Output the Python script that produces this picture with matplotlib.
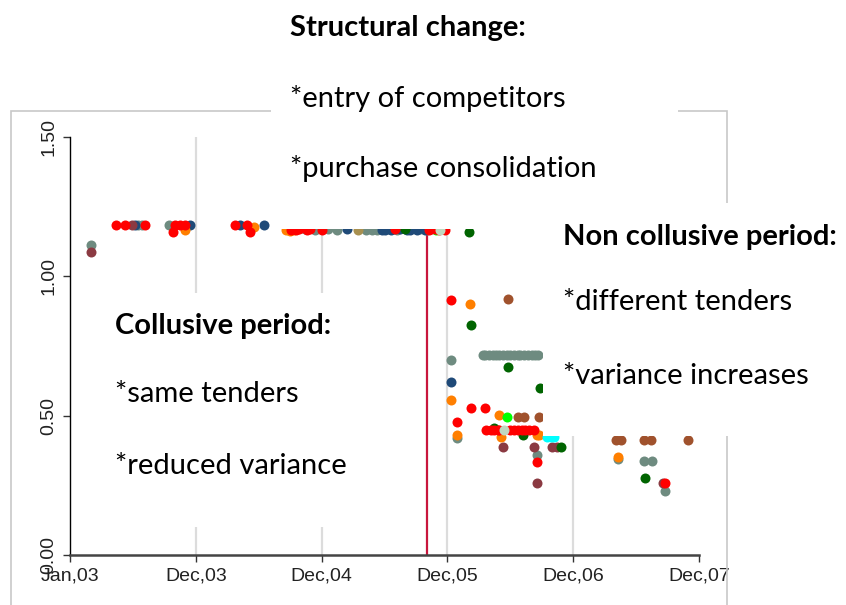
import matplotlib
matplotlib.use("Agg")
from matplotlib import pyplot as plt
from matplotlib.patches import Rectangle

# x in "tick units": 0 = Jan,03, 1 = Dec,03, ... 5 = Dec,07
x_ticks = [0, 1, 2, 3, 4, 5]
x_labels = ["Jan,03", "Dec,03", "Dec,04", "Dec,05", "Dec,06", "Dec,07"]
y_ticks = [0.0, 0.5, 1.0, 1.5]
y_labels = ["0.00", "0.50", "1.00", "1.50"]
break_x = 2.84
break_top = 1.165

gray_x = [0.167, 0.54, 0.57, 0.79, 1.865, 1.95, 2.05, 2.12, 2.35, 2.40, 2.44,
          2.47, 2.54, 2.60, 2.75, 2.78, 2.84,
          3.03, 3.28, 3.30, 3.33, 3.36, 3.39, 3.41, 3.44, 3.47, 3.50, 3.53,
          3.56, 3.58, 3.61, 3.64, 3.67, 3.70, 3.72,
          3.08, 3.71, 4.36, 4.56, 4.63, 4.73]
gray_y = [1.111, 1.185, 1.183, 1.185, 1.17, 1.168, 1.17, 1.168, 1.165, 1.168,
          1.168, 1.17, 1.17, 1.168, 1.17, 1.17, 1.165,
          0.699, 0.717, 0.717, 0.717, 0.717, 0.717, 0.717, 0.717, 0.717,
          0.717, 0.717, 0.717, 0.717, 0.717, 0.717, 0.717, 0.717, 0.717,
          0.419, 0.36, 0.343, 0.339, 0.339, 0.231]
blue_x = [0.516, 0.952, 1.35, 1.54, 2.20, 2.48, 2.50, 2.55, 2.62, 2.68, 2.70,
          2.76, 2.82, 3.03]
blue_y = [1.185, 1.185, 1.185, 1.183, 1.17, 1.165, 1.165, 1.168, 1.17, 1.168,
          1.168, 1.165, 1.165, 0.622]
maroon_x = [0.167, 0.49, 3.44, 3.69, 3.71, 3.83, 3.87, 4.71]
maroon_y = [1.086, 1.185, 0.389, 0.389, 0.26, 0.389, 0.389, 0.26]
orange_x = [0.913, 1.46, 1.72, 1.746, 1.78, 3.18, 3.03, 3.08, 3.41, 3.43,
            3.71, 3.73, 4.36]
orange_y = [1.167, 1.178, 1.168, 1.164, 1.168, 0.90, 0.558, 0.429, 0.504,
            0.425, 0.429, 0.432, 0.353]
khaki_x = [2.29]
khaki_y = [1.165]
green_x = [2.66, 2.92, 3.175, 3.19, 3.48, 3.74, 3.37, 3.60, 3.90, 4.57]
green_y = [1.17, 1.17, 1.16, 0.824, 0.676, 0.60, 0.457, 0.429, 0.389, 0.278]
brown_x = [3.48, 3.56, 3.61, 3.73, 4.34, 4.38, 4.56, 4.62, 4.91]
brown_y = [0.917, 0.497, 0.497, 0.497, 0.414, 0.414, 0.414, 0.414, 0.414]
cyan_x = [3.79, 3.82, 3.85]
cyan_y = [0.425, 0.425, 0.425]
magenta_x = [2.87]
magenta_y = [1.17]
lime_x = [2.91, 3.47]
lime_y = [1.168, 0.497]
red_x = [0.365, 0.437, 0.60, 0.833, 0.873, 0.913, 0.817, 1.31, 1.41, 1.43,
         1.76, 1.80, 1.82, 1.88, 1.905, 2.0, 2.58, 2.85, 2.90, 2.93, 2.98,
         3.03, 3.19, 3.30, 3.08,
         3.31, 3.35, 3.37, 3.40, 3.41, 3.50, 3.53, 3.56, 3.59, 3.62, 3.65, 3.69,
         3.71, 4.73]
red_y = [1.185, 1.185, 1.185, 1.185, 1.185, 1.185, 1.16, 1.185, 1.185, 1.16,
         1.168, 1.165, 1.17, 1.168, 1.17, 1.168, 1.17, 1.168, 1.17, 1.168, 1.168,
         0.916, 0.527, 0.527, 0.479,
         0.45, 0.45, 0.45, 0.45, 0.45, 0.45, 0.45, 0.45, 0.45, 0.45, 0.45, 0.45,
         0.335, 0.26]
pale_x = [2.94, 3.45]
pale_y = [1.165, 0.45]

series = [
    (gray_x, gray_y, "#6e8b80"),
    (blue_x, blue_y, "#1f4a78"),
    (maroon_x, maroon_y, "#8b3a42"),
    (khaki_x, khaki_y, "#a89050"),
    (brown_x, brown_y, "#a0522d"),
    (green_x, green_y, "#006400"),
    (orange_x, orange_y, "#ff7f00"),
    (cyan_x, cyan_y, "#00ffff"),
    (magenta_x, magenta_y, "#ff00ff"),
    (lime_x, lime_y, "#00ff00"),
    (red_x, red_y, "#ff0000"),
    (pale_x, pale_y, "#c0d8c0"),
]

W, H = 846, 605
fig = plt.figure(figsize=(W / 100, H / 100), dpi=100)


def fx(px):
    return px / W


def fy(py):
    return (H - py) / H


ax = fig.add_axes([fx(70), fy(555), fx(699) - fx(70), fy(137) - fy(555)])
ax.set_facecolor("none")
ax.set_xlim(0, 5)
ax.set_ylim(0, 1.5)

for g in [1, 2, 3, 4]:
    ax.axvline(g, color="#dcdcdc", lw=1.6, zorder=1)
ax.plot([break_x, break_x], [0, break_top], color="#c8163c", lw=1.6, zorder=2)

for xs, ys, c in series:
    ax.plot(xs, ys, "o", color=c, ms=7.2, mew=0, zorder=3, clip_on=False)

tick_font = ["Liberation Sans Narrow", "DejaVu Sans Condensed", "Liberation Sans"]
ax.set_xticks(x_ticks)
ax.set_xticklabels(x_labels, family=tick_font, fontsize=14, color="#222222")
ax.set_yticks(y_ticks)
ax.set_yticklabels(y_labels, family=tick_font, fontsize=14, color="#222222",
                   rotation=90, va="center")
ax.tick_params(axis="x", length=5, width=1, pad=4, color="#333333")
ax.tick_params(axis="y", length=5, width=1, pad=4, color="#333333")
for s in ["top", "right"]:
    ax.spines[s].set_visible(False)
ax.spines["left"].set_color("black")
ax.spines["left"].set_linewidth(1)
ax.spines["bottom"].set_color("#444444")
ax.spines["bottom"].set_linewidth(1.8)

# outer light frame of the graph region
fig.patches.append(Rectangle((fx(11), fy(620)), fx(727) - fx(11), fy(111) - fy(620),
                             transform=fig.transFigure, fill=False,
                             edgecolor="#c8c8c8", lw=1.2, zorder=1))

# white overlay boxes
boxes = [(271, 0, 678, 229), (543, 203, 846, 436), (100, 293, 385, 527)]
for x0, y0, x1, y1 in boxes:
    fig.patches.append(Rectangle((fx(x0), fy(y1)), fx(x1) - fx(x0), fy(y0) - fy(y1),
                                 transform=fig.transFigure, facecolor="white",
                                 edgecolor="none", zorder=5))

text_font = ["Lato", "DejaVu Sans"]
notes = [
    (290, 28, "Structural change:", "bold"),
    (290, 98, "*entry of competitors", "normal"),
    (290, 168, "*purchase consolidation", "normal"),
    (563, 237, "Non collusive period:", "bold"),
    (563, 302, "*different tenders", "normal"),
    (563, 376, "*variance increases", "normal"),
    (115, 326, "Collusive period:", "bold"),
    (115, 394, "*same tenders", "normal"),
    (115, 466, "*reduced variance", "normal"),
]
for px, py, s, w in notes:
    fig.text(fx(px), fy(py), s, family=text_font, fontsize=21, fontweight=w,
             color="black", ha="left", va="center", zorder=6)

fig.savefig("out.png", dpi=100)
